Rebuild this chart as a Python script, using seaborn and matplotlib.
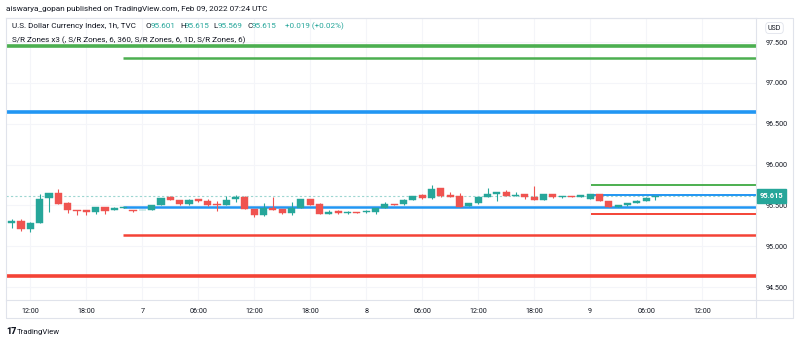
import numpy as np
import pandas as pd
import matplotlib
matplotlib.use("Agg")
import matplotlib.pyplot as plt
import seaborn as sns
from matplotlib.lines import Line2D

# ---------------- data ----------------
opens = [95.278, 95.314, 95.209, 95.282, 95.591, 95.648, 95.526, 95.441, 95.445, 95.420,
         95.477, 95.437, 95.469, 95.437, 95.437, 95.449, 95.506, 95.599, 95.567, 95.518,
         95.575, 95.559, 95.514, 95.506, 95.575, 95.607, 95.453, 95.376, 95.469, 95.453,
         95.412, 95.473, 95.575, 95.518, 95.392, 95.432, 95.404, 95.420, 95.416, 95.424,
         95.469, 95.518, 95.514, 95.571, 95.624, 95.587, 95.713, 95.632, 95.616, 95.498,
         95.526, 95.607, 95.640, 95.664, 95.620, 95.640, 95.599, 95.571, 95.640, 95.599,
         95.616, 95.607, 95.583, 95.636, 95.559, 95.485, 95.502, 95.530, 95.559, 95.601]
highs = [95.331, 95.335, 95.290, 95.636, 95.650, 95.697, 95.546, 95.441, 95.445, 95.480,
         95.480, 95.485, 95.479, 95.437, 95.445, 95.510, 95.591, 95.616, 95.567, 95.583,
         95.583, 95.575, 95.559, 95.620, 95.628, 95.610, 95.453, 95.526, 95.599, 95.453,
         95.542, 95.575, 95.575, 95.530, 95.437, 95.445, 95.432, 95.420, 95.437, 95.473,
         95.542, 95.518, 95.575, 95.620, 95.636, 95.746, 95.713, 95.664, 95.648, 95.534,
         95.603, 95.713, 95.668, 95.693, 95.664, 95.640, 95.738, 95.640, 95.640, 95.616,
         95.616, 95.628, 95.640, 95.640, 95.559, 95.506, 95.534, 95.560, 95.600, 95.615]
lows = [95.221, 95.192, 95.168, 95.280, 95.424, 95.520, 95.412, 95.384, 95.376, 95.400,
        95.392, 95.437, 95.465, 95.416, 95.437, 95.449, 95.506, 95.563, 95.510, 95.510,
        95.542, 95.494, 95.432, 95.506, 95.542, 95.450, 95.355, 95.370, 95.437, 95.388,
        95.376, 95.470, 95.506, 95.390, 95.388, 95.396, 95.396, 95.410, 95.412, 95.396,
        95.469, 95.500, 95.506, 95.570, 95.575, 95.579, 95.607, 95.607, 95.485, 95.494,
        95.518, 95.607, 95.559, 95.620, 95.620, 95.579, 95.567, 95.567, 95.595, 95.591,
        95.607, 95.607, 95.580, 95.559, 95.481, 95.481, 95.494, 95.526, 95.555, 95.569]
closes = [95.310, 95.209, 95.282, 95.583, 95.648, 95.522, 95.441, 95.433, 95.420, 95.477,
          95.432, 95.469, 95.477, 95.431, 95.445, 95.506, 95.591, 95.563, 95.514, 95.567,
          95.551, 95.502, 95.506, 95.567, 95.603, 95.453, 95.376, 95.465, 95.445, 95.412,
          95.473, 95.575, 95.506, 95.392, 95.424, 95.404, 95.420, 95.412, 95.428, 95.473,
          95.518, 95.506, 95.567, 95.616, 95.587, 95.701, 95.620, 95.607, 95.485, 95.526,
          95.603, 95.636, 95.660, 95.620, 95.632, 95.599, 95.567, 95.640, 95.599, 95.616,
          95.607, 95.628, 95.636, 95.559, 95.481, 95.502, 95.530, 95.559, 95.595, 95.615]

time_tick_bars = [2, 8, 14, 20, 26, 32, 38, 44, 50, 56, 62, 68, 74]
time_tick_labels = ["12:00", "18:00", "7", "06:00", "12:00", "18:00", "8",
                    "06:00", "12:00", "18:00", "9", "06:00", "12:00"]
price_ticks = [94.5, 95.0, 95.5, 96.0, 96.5, 97.0, 97.5]

zone_full_levels = [97.451, 96.648, 94.640]
zone_mid_levels = [97.300, 95.477, 95.140]
zone_mid_start = 11.9
zone_short_levels = [95.750, 95.625, 95.400]
zone_short_start = 62.1
last_price = 95.615

# ---------------- style ----------------
UP = "#26a69a"
DOWN = "#ef5350"
GREEN = "#4caf50"
BLUE = "#2196f3"
RED = "#f44336"
zone_colors = [GREEN, BLUE, RED]
BORDER = "#e0e3eb"
GRID = "#f4f5f9"
TXT = "#131722"

sns.set_theme(style="white")
plt.rcParams['font.family'] = ['Roboto', 'DejaVu Sans']

W, H = 800, 343
fig = plt.figure(figsize=(W / 100, H / 100), dpi=100)
fig.patch.set_facecolor("white")

def fx(px):
    return px / W

def fy(py):
    return 1 - py / H

left_px, right_px, top_px, bottom_px = 6, 755.7, 18, 300
ax = fig.add_axes([fx(left_px), fy(bottom_px), fx(right_px - left_px), (bottom_px - top_px) / H])
ax.set_facecolor("white")
ax.set_xlim(-0.61, 79.74)
ax.set_ylim(94.341, 97.794)

# grid
for t in time_tick_bars:
    ax.axvline(t, color=GRID, lw=0.8, zorder=0)
for p in price_ticks:
    ax.axhline(p, color=GRID, lw=0.8, zorder=0)

# S/R zone lines
for lvl, c in zip(zone_full_levels, zone_colors):
    ax.hlines(lvl, -0.61, 79.74, color=c, lw=2.6, zorder=1)
for lvl, c in zip(zone_mid_levels, zone_colors):
    ax.hlines(lvl, zone_mid_start, 79.74, color=c, lw=1.8, zorder=1)
for lvl, c in zip(zone_short_levels, zone_colors):
    ax.hlines(lvl, zone_short_start, 79.74, color=c, lw=1.4, zorder=1)

# last price dashed line
ax.axhline(last_price, color=UP, lw=0.8, ls=(0, (2, 2)), alpha=0.45, zorder=1)

# candles
df = pd.DataFrame(dict(o=opens, h=highs, l=lows, c=closes))
df["x"] = np.arange(len(df))
colors = np.where(df.c >= df.o, UP, DOWN)
ax.vlines(df.x, df.l, df.h, colors=colors, lw=0.8, zorder=3)
body_bottom = np.minimum(df.o, df.c)
body_h = np.maximum(np.abs(df.c - df.o), 0.012)
ax.bar(df.x, body_h, bottom=body_bottom, width=0.76, color=colors,
       edgecolor=colors, linewidth=0.3, zorder=4)

# axes ticks
ax.set_xticks(time_tick_bars)
ax.set_xticklabels(time_tick_labels)
ax.tick_params(axis="x", length=0, pad=6, labelsize=5.2, colors=TXT)
ax.yaxis.tick_right()
ax.set_yticks(price_ticks)
ax.set_yticklabels([f"{p:.3f}" for p in price_ticks])
ax.tick_params(axis="y", length=0, pad=7, labelsize=5.2, colors=TXT)
for s in ax.spines.values():
    s.set_color(BORDER)
    s.set_linewidth(0.8)

# outer panel borders
fig.add_artist(Line2D([fx(left_px), fx(793)], [fy(top_px), fy(top_px)], color=BORDER, lw=0.8))
fig.add_artist(Line2D([fx(left_px), fx(793)], [fy(318), fy(318)], color=BORDER, lw=0.8))
fig.add_artist(Line2D([fx(793), fx(793)], [fy(top_px), fy(318)], color=BORDER, lw=0.8))
fig.add_artist(Line2D([fx(left_px), fx(left_px)], [fy(bottom_px), fy(318)], color=BORDER, lw=0.8))
fig.add_artist(Line2D([fx(right_px), fx(right_px)], [fy(bottom_px), fy(318)], color=BORDER, lw=0.8))
fig.add_artist(Line2D([fx(right_px), fx(793)], [fy(bottom_px), fy(bottom_px)], color=BORDER, lw=0.8))

# last price label
ax.annotate(f"{last_price:.3f}", xy=(1.0, last_price), xycoords=("axes fraction", "data"),
            xytext=(3, 0), textcoords="offset points", ha="left", va="center",
            fontsize=5.4, fontweight="bold", color="white",
            bbox=dict(boxstyle="square,pad=0.35", fc=UP, ec=UP), zorder=10,
            annotation_clip=False)

# USD box
fig.text(fx(774.5), fy(28), "USD", fontsize=5, color=TXT, ha="center", va="center",
         bbox=dict(boxstyle="round,pad=0.3,rounding_size=0.5", fc="white", ec=BORDER, lw=0.6))

# header texts
HF = 5.9
fig.text(fx(6), fy(9), "aiswarya_gopan published on TradingView.com, Feb 09, 2022 07:24 UTC",
         fontsize=5.9, color=TXT, ha="left", va="center")
fig.text(fx(12.5), fy(26), "U.S. Dollar Currency Index, 1h, TVC", fontsize=HF, color=TXT,
         ha="left", va="center")
fig.text(fx(146), fy(26), "O", fontsize=HF, color=TXT, ha="left", va="center")
fig.text(fx(151), fy(26), "95.601", fontsize=HF, color=UP, ha="left", va="center")
fig.text(fx(180), fy(26), "H", fontsize=HF, color=TXT, ha="left", va="center")
fig.text(fx(185), fy(26), "95.615", fontsize=HF, color=UP, ha="left", va="center")
fig.text(fx(213), fy(26), "L", fontsize=HF, color=TXT, ha="left", va="center")
fig.text(fx(217.5), fy(26), "95.569", fontsize=HF, color=UP, ha="left", va="center")
fig.text(fx(247), fy(26), "C", fontsize=HF, color=TXT, ha="left", va="center")
fig.text(fx(252), fy(26), "95.615", fontsize=HF, color=UP, ha="left", va="center")
fig.text(fx(285), fy(26), "+0.019 (+0.02%)", fontsize=HF, color=UP, ha="left", va="center")
fig.text(fx(12.5), fy(40), "S/R Zones x3 (, S/R Zones, 6, 360, S/R Zones, 6, 1D, S/R Zones, 6)",
         fontsize=HF, color=TXT, ha="left", va="center")

# footer logo
fig.text(fx(6), fy(332), "17", fontsize=6.5, fontweight="heavy", color=TXT, ha="left", va="center")
fig.text(fx(17), fy(332), "TradingView", fontsize=5.6, color=TXT, ha="left", va="center")

fig.savefig("out.png", dpi=100, facecolor="white")
